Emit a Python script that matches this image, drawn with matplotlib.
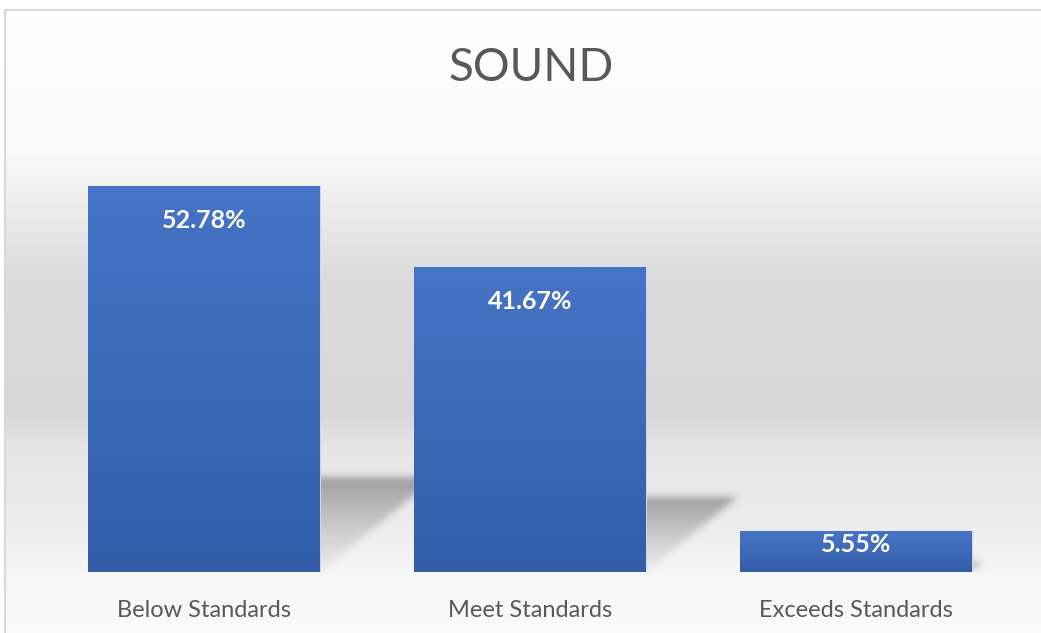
import numpy as np
import matplotlib
matplotlib.use("Agg")
import matplotlib.pyplot as plt
from matplotlib.patches import Rectangle

# data
categories = ["Below Standards", "Meet Standards", "Exceeds Standards"]
values = [52.78, 41.67, 5.55]
value_labels = ["52.78%", "41.67%", "5.55%"]
title = "SOUND"

W, H, DPI = 1041, 633, 100
plt.rcParams['font.family'] = ['Lato', 'DejaVu Sans']
text_gray = "#595959"

fig = plt.figure(figsize=(W / DPI, H / DPI), dpi=DPI)
fig.patch.set_facecolor("white")

# chart area background: vertical gray gradient, framed by a light border
bg = fig.add_axes([0, 0, 1, 1], zorder=0)
bg.set_xlim(0, W)
bg.set_ylim(H, 0)
bg.axis("off")
stops_y = [10, 150, 280, 412, 445, 520, 575, 633]
stops_v = [255, 250, 219, 215, 229, 236, 246, 250]
rows = np.interp(np.arange(10, H), stops_y, stops_v) / 255.0
grad = np.repeat(rows[:, None], 2, axis=1)
bg.imshow(np.dstack([grad, grad, grad]), extent=(5, W + 2, H, 10),
          aspect="auto", interpolation="bilinear")
bg.add_patch(Rectangle((5, 10), W + 10, H + 10, fill=False,
                       edgecolor="#d9d9d9", linewidth=1.5))
bg.text(531, 68, title, ha="center", va="center", fontsize=33,
        color=text_gray)

# plot area
ax = fig.add_axes([41 / W, 61 / H, 978 / W, 438.6 / H], zorder=1)
ax.patch.set_alpha(0)
ax.set_xlim(-0.5, 2.5)
ax.set_ylim(0, 60)
for s in ax.spines.values():
    s.set_visible(False)
ax.set_yticks([])
x = np.arange(len(categories))
ax.set_xticks(x)
ax.set_xticklabels(categories, fontsize=17, color=text_gray)
ax.tick_params(axis="x", length=0, pad=20)

bar_w = 0.71

# perspective shadows (skewed up/right, fading toward the base), blurred
nx, ny = 978, 439
gx = -0.5 + (np.arange(nx) + 0.5) / nx * 3.0
gy = (ny - np.arange(ny) - 0.5) / ny * 60.0
XX, YY = np.meshgrid(gx, gy)
alpha = np.zeros((ny, nx))
skew = 1.23 * (438.6 / 60) / 326.0
for xi, v in zip(x, values):
    sh = v * 0.245
    inside = (YY <= sh) & (XX >= xi - bar_w / 2 + skew * YY) & (XX <= xi + bar_w / 2 + skew * YY)
    alpha = np.maximum(alpha, np.where(inside, 0.06 + 0.46 * (YY / sh) ** 1.3, 0))

sigma = 3.5
r = int(3 * sigma)
k = np.exp(-0.5 * (np.arange(-r, r + 1) / sigma) ** 2)
k /= k.sum()
pad = np.pad(alpha, r, mode="constant")
tmp = np.zeros((ny + 2 * r, nx))
for i in range(2 * r + 1):
    tmp += k[i] * pad[:, i:i + nx]
blur = np.zeros((ny, nx))
for i in range(2 * r + 1):
    blur += k[i] * tmp[i:i + ny, :]
shadow = np.zeros((ny, nx, 4))
shadow[..., :3] = 90 / 255.0
shadow[..., 3] = blur
ax.imshow(shadow, extent=(-0.5, 2.5, 0, 60), aspect="auto", zorder=1,
          interpolation="bilinear")

# bars with vertical gradient
top_c = np.array([70, 116, 198]) / 255.0
bot_c = np.array([52, 93, 168]) / 255.0
bars = ax.bar(x, values, width=bar_w, color="#4472c4",
              edgecolor="#c9d7ef", linewidth=0.8, zorder=2)
t = np.linspace(0, 1, 256)[:, None]
bar_grad = (top_c[None, :] * (1 - t) + bot_c[None, :] * t)[:, None, :]
for b in bars:
    im = ax.imshow(bar_grad, extent=(b.get_x(), b.get_x() + b.get_width(), 0, b.get_height()),
                   aspect="auto", zorder=3, interpolation="bilinear")
    im.set_clip_path(b)

# value labels
for xi, v, lab in zip(x, values, value_labels):
    h_px = v * 438.6 / 60
    off = 23 if h_px > 80 else 2
    ax.annotate(lab, xy=(xi, v), xytext=(0, -off), textcoords="offset pixels",
                ha="center", va="top", fontsize=18, fontweight="bold",
                color="white", zorder=4)

ax.set_xlim(-0.5, 2.5)
ax.set_ylim(0, 60)
fig.savefig("out.png", dpi=DPI)
